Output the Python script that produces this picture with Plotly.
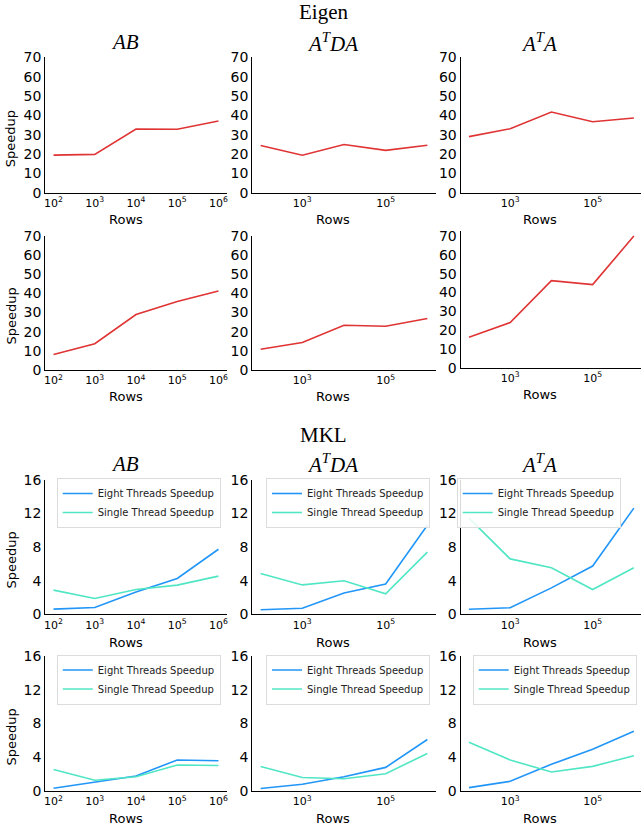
import plotly.graph_objects as go

W, H = 641, 830

rows_x = [100, 1000, 10000, 100000, 1000000]

# Eigen speedups (row 1 and row 2), columns: AB, A^T DA, A^T A
eigen_r1_ab = [19.4, 19.8, 32.9, 32.8, 37.1]
eigen_r1_atda = [24.4, 19.4, 24.9, 21.9, 24.5]
eigen_r1_ata = [29.0, 33.1, 41.7, 36.7, 38.6]
eigen_r2_ab = [8.1, 13.7, 28.9, 35.7, 41.2]
eigen_r2_atda = [10.8, 14.3, 23.3, 22.8, 26.8]
eigen_r2_ata = [16.2, 24.0, 46.3, 44.2, 70.0]

# MKL speedups
mkl_r1_ab_eight = [0.62, 0.8, 2.65, 4.27, 7.75]
mkl_r1_ab_single = [2.88, 1.88, 2.95, 3.48, 4.55]
mkl_r1_atda_eight = [0.55, 0.72, 2.55, 3.6, 10.6]
mkl_r1_atda_single = [4.85, 3.5, 4.0, 2.45, 7.4]
mkl_r1_ata_eight = [0.6, 0.78, 3.15, 5.75, 12.65]
mkl_r1_ata_single = [11.45, 6.6, 5.55, 2.95, 5.55]
mkl_r2_ab_eight = [0.32, 1.02, 1.78, 3.68, 3.58]
mkl_r2_ab_single = [2.55, 1.28, 1.68, 3.08, 3.02]
mkl_r2_atda_eight = [0.3, 0.8, 1.68, 2.8, 6.1]
mkl_r2_atda_single = [2.9, 1.6, 1.45, 2.05, 4.45]
mkl_r2_ata_eight = [0.4, 1.15, 3.16, 4.94, 7.07]
mkl_r2_ata_single = [5.77, 3.67, 2.25, 2.92, 4.19]

col_titles = ["<i>AB</i>", "<i>A</i><sup><i>T</i></sup><i>DA</i>", "<i>A</i><sup><i>T</i></sup><i>A</i>"]
group_titles = ["Eigen", "MKL"]
series_names = ["Eight Threads Speedup", "Single Thread Speedup"]
x_label = "Rows"
y_label = "Speedup"

RED = "#e03434"
BLUE = "#2196f8"
GREEN = "#50e6c4"

# pixel layout of each panel: (left, right, top, bottom)
cols_px = [(45.3, 226.7), (252.3, 435.7), (460.7, 641.0)]
xranges = [[1.8, 6.2], [1.8, 6.2], [1.8, 6.173]]
rows_px = [(57.3, 192.7), (235.7, 370.0), (480.0, 614.3), (656.0, 791.0)]

def px_x(p):
    return p / W

def px_y(p):
    return 1 - p / H

fig = go.Figure()
layout = {}

eigen_data = [[eigen_r1_ab, eigen_r1_atda, eigen_r1_ata],
              [eigen_r2_ab, eigen_r2_atda, eigen_r2_ata]]
mkl_data = [[(mkl_r1_ab_eight, mkl_r1_ab_single), (mkl_r1_atda_eight, mkl_r1_atda_single),
             (mkl_r1_ata_eight, mkl_r1_ata_single)],
            [(mkl_r2_ab_eight, mkl_r2_ab_single), (mkl_r2_atda_eight, mkl_r2_atda_single),
             (mkl_r2_ata_eight, mkl_r2_ata_single)]]

legend_pos = {  # (right px, top px)
    (2, 0): (220.7, 478.0), (2, 1): (430.0, 478.0), (2, 2): (620.7, 478.0),
    (3, 0): (220.8, 654.5), (3, 1): (430.0, 654.5), (3, 2): (636.7, 654.5),
}

idx = 0
legend_n = 0
for r in range(4):
    for c in range(3):
        idx += 1
        xa = "x" if idx == 1 else f"x{idx}"
        ya = "y" if idx == 1 else f"y{idx}"
        xkey = "xaxis" if idx == 1 else f"xaxis{idx}"
        ykey = "yaxis" if idx == 1 else f"yaxis{idx}"
        top, bot = rows_px[r]
        yrange = [0, 70] if r < 2 else [0, 16]
        dtick = 10 if r < 2 else 4
        if r == 1 and c == 2:
            top, bot = 231.0, 367.7
            yrange = [0, 72.7]
        left, right = cols_px[c]
        if c == 0:
            tv = rows_x
            tt = ["10<sup>%d</sup>" % k for k in range(2, 7)]
        else:
            tv = [1000, 100000]
            tt = ["10<sup>3</sup>", "10<sup>5</sup>"]
        layout[xkey] = dict(domain=[px_x(left), min(1.0, px_x(right))], type="log",
                            range=xranges[c], anchor=ya, showgrid=False, zeroline=False,
                            showline=True, linecolor="black", linewidth=1.3,
                            ticks="", tickvals=tv, ticktext=tt, automargin=False,
                            tickfont=dict(family="DejaVu Sans", size=11, color="black"))
        layout[ykey] = dict(domain=[px_y(bot), px_y(top)], range=yrange, dtick=dtick,
                            anchor=xa, showgrid=False, zeroline=False,
                            showline=True, linecolor="black", linewidth=1.3,
                            ticks="", automargin=False,
                            tickfont=dict(family="DejaVu Sans", size=14, color="black"))
        if r < 2:
            fig.add_trace(go.Scatter(x=rows_x, y=eigen_data[r][c], mode="lines",
                                     line=dict(color=RED, width=1.6), xaxis=xa, yaxis=ya,
                                     showlegend=False))
        else:
            legend_n += 1
            lg = "legend" if legend_n == 1 else f"legend{legend_n}"
            eight, single = mkl_data[r - 2][c]
            fig.add_trace(go.Scatter(x=rows_x, y=eight, mode="lines", name=series_names[0],
                                     line=dict(color=BLUE, width=1.6), xaxis=xa, yaxis=ya,
                                     legend=lg, showlegend=True))
            fig.add_trace(go.Scatter(x=rows_x, y=single, mode="lines", name=series_names[1],
                                     line=dict(color=GREEN, width=1.6), xaxis=xa, yaxis=ya,
                                     legend=lg, showlegend=True))
            rx, ty = legend_pos[(r, c)]
            layout[lg] = dict(x=px_x(rx), y=px_y(ty), xanchor="right", yanchor="top",
                              bgcolor="rgba(255,255,255,0.85)", bordercolor="#dcdcdc",
                              borderwidth=1, font=dict(family="DejaVu Sans", size=10, color="#222"),
                              itemwidth=30, tracegroupgap=0)

annotations = []
# group titles
for gt, yc in zip(group_titles, [12.5, 435.0]):
    annotations.append(dict(text=gt, x=px_x(323), y=px_y(yc), xref="paper", yref="paper",
                            showarrow=False, xanchor="center", yanchor="middle",
                            font=dict(family="Liberation Serif", size=21, color="black")))
# column titles
title_x = [125.0, 332.5, 539.0]
for yc in [42.0, 463.5]:
    for c in range(3):
        annotations.append(dict(text=col_titles[c], x=px_x(title_x[c]), y=px_y(yc), xref="paper",
                                yref="paper", showarrow=False, xanchor="center", yanchor="middle",
                                font=dict(family="Liberation Serif", size=21, color="black")))
# y labels
for yc in [138.7, 316.0, 560.0, 737.0]:
    annotations.append(dict(text=y_label, x=px_x(10.5), y=px_y(yc), xref="paper", yref="paper",
                            showarrow=False, xanchor="center", yanchor="middle", textangle=-90,
                            font=dict(family="DejaVu Sans", size=13, color="black")))
# x labels
rows_label_x = [125.5, 333.0, 540.0]
rows_label_y = [220.0, 396.7, 642.3, 818.3]
for r in range(4):
    for c in range(3):
        yc = rows_label_y[r]
        if r == 1 and c == 2:
            yc = 394.3
        annotations.append(dict(text=x_label, x=px_x(rows_label_x[c]), y=px_y(yc), xref="paper",
                                yref="paper", showarrow=False, xanchor="center", yanchor="middle",
                                font=dict(family="DejaVu Sans", size=13, color="black")))

fig.update_layout(width=W, height=H, margin=dict(l=0, r=0, t=0, b=0, autoexpand=False),
                  paper_bgcolor="white", plot_bgcolor="white",
                  annotations=annotations, **layout)
fig.write_html("out.html", config={"displayModeBar": False},
               post_script="document.body.style.margin='0';document.body.style.overflow='hidden';")
